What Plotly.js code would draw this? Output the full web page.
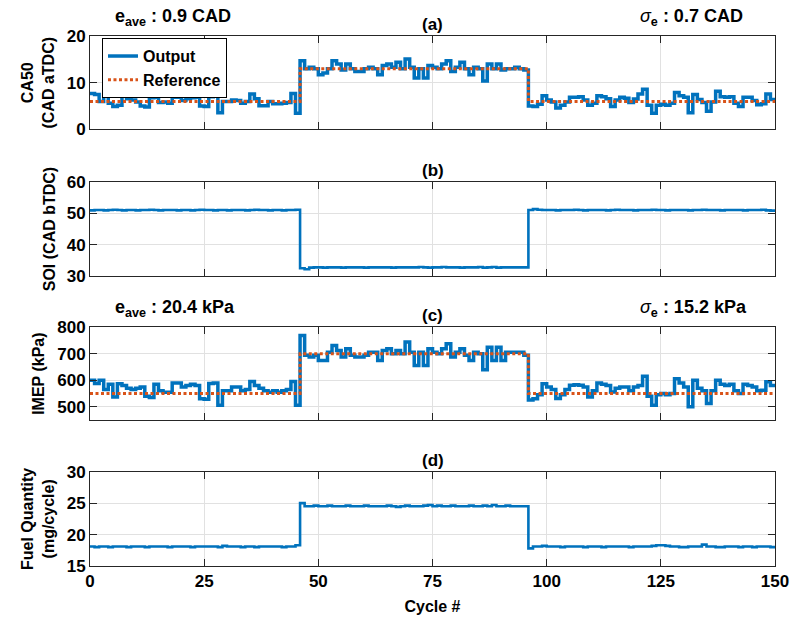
<!DOCTYPE html>
<html>
<head>
<meta charset="utf-8">
<script src="https://cdn.plot.ly/plotly-3.0.1.min.js"></script>
<style>
  html, body { margin: 0; padding: 0; background: #fff; }
  #chart { width: 791px; height: 624px; }
</style>
</head>
<body>
<div id="chart"></div>
<script>
// ---------------- DATA ----------------
const cycles = Array.from({length: 151}, (_, i) => i);   // cycle index 0..150

// (a) CA50 output (CAD aTDC)
const ca50Output = [
  7.7,7.5,6.0,7.4,5.6,4.9,5.2,7.2,6.6,6.3,
  5.9,5.0,4.8,6.8,6.9,5.8,5.9,5.6,6.9,6.9,
  6.2,6.6,6.8,6.9,5.0,4.9,7.0,7.1,3.6,6.0,
  6.0,6.3,6.2,5.6,6.0,7.6,6.6,5.1,5.1,6.0,
  5.5,5.5,5.6,5.8,7.7,3.5,14.7,13.0,13.3,13.0,
  11.7,12.1,13.0,14.7,14.0,12.7,14.0,13.0,12.4,12.4,
  13.0,13.3,13.0,11.7,13.7,14.0,13.3,14.4,13.0,15.1,
  13.3,11.0,13.0,11.0,13.7,13.3,13.0,14.0,14.7,12.4,
  13.3,14.4,13.0,11.7,13.3,13.0,10.4,14.0,13.0,14.0,
  12.7,13.0,13.0,13.3,13.0,12.7,5.0,4.9,5.4,7.2,
  6.3,5.9,4.6,5.2,5.9,6.9,6.9,7.0,6.3,5.2,
  5.6,7.2,7.0,6.6,4.9,6.3,6.9,6.7,5.8,6.5,
  7.6,8.6,5.2,3.5,5.2,5.4,5.2,5.6,7.9,7.2,
  6.9,3.6,7.5,6.4,5.8,3.9,5.9,8.2,7.0,6.9,
  7.0,5.6,4.9,6.9,6.9,6.2,5.3,5.5,7.6,6.4,
  6.4
];
// (a) CA50 reference: step breakpoints
const ca50RefCycles = [0, 46, 96, 150];
const ca50RefValues = [6, 13, 6, 6];

// (b) SOI (CAD bTDC)
const soiValues = [
  51.0,51.1,51.1,51.0,51.1,51.2,51.1,51.0,51.1,51.1,
  51.0,51.1,51.1,51.2,51.1,51.0,51.1,51.1,51.1,51.0,
  51.1,51.1,51.0,51.1,51.2,51.1,51.1,51.0,51.1,51.1,
  51.0,51.1,51.1,51.1,51.0,51.1,51.2,51.1,51.1,51.0,
  51.1,51.1,51.0,51.1,51.1,51.2,32.4,32.1,32.6,32.7,
  32.7,32.6,32.7,32.7,32.7,32.6,32.7,32.7,32.7,32.7,
  32.6,32.7,32.7,32.7,32.7,32.7,32.6,32.7,32.7,32.7,
  32.7,32.7,32.8,32.7,32.6,32.7,32.7,32.8,32.7,32.7,
  32.7,32.6,32.7,32.7,32.7,32.8,32.6,32.7,32.8,32.6,
  32.7,32.7,32.7,32.7,32.7,32.7,51.1,51.4,51.2,51.1,
  51.1,51.1,51.0,51.1,51.1,51.1,51.2,51.1,51.0,51.1,
  51.1,51.1,51.1,51.0,51.1,51.2,51.1,51.1,51.1,51.0,
  51.1,51.1,51.1,51.2,51.1,51.1,51.0,51.1,51.1,51.1,
  51.1,51.0,51.1,51.1,51.2,51.1,51.1,51.1,51.0,51.1,
  51.1,51.1,51.1,51.0,51.1,51.1,51.1,51.2,51.0,50.9,
  50.9
];

// (c) IMEP output (kPa)
const imepOutput = [
  600,588,600,565,585,537,587,580,570,565,
  570,575,540,535,585,560,555,555,590,590,
  575,580,585,580,530,528,588,590,506,560,
  560,575,575,560,565,595,580,570,560,555,
  560,555,560,565,595,506,769,694,688,694,
  675,675,706,731,712,688,719,694,688,688,
  694,706,706,675,712,719,700,712,700,744,
  706,656,706,656,719,706,700,719,738,688,
  706,719,694,675,706,700,640,725,675,725,
  675,706,706,706,706,694,525,530,545,587,
  575,565,531,545,565,581,583,581,575,537,
  560,590,585,580,556,570,575,575,560,575,
  580,615,540,506,545,550,545,550,606,590,
  575,500,600,570,560,512,560,600,585,580,
  585,560,550,585,580,575,560,562,594,580,
  580
];
// (c) IMEP reference: step breakpoints
const imepRefCycles = [0, 46, 96, 150];
const imepRefValues = [550, 700, 550, 550];

// (d) Fuel quantity (mg/cycle)
const fuelValues = [
  18.1,18.0,18.1,18.1,18.0,18.1,18.1,18.1,18.0,18.1,
  18.1,18.1,18.0,18.1,18.1,18.1,18.1,18.0,18.1,18.1,
  18.1,18.1,18.0,18.1,18.1,18.1,18.1,18.1,18.0,18.2,
  18.1,18.1,18.1,18.0,18.1,18.1,18.0,18.1,18.1,18.1,
  18.1,18.1,18.0,18.1,18.1,18.3,25.0,24.5,24.5,24.6,
  24.5,24.5,24.6,24.5,24.5,24.5,24.6,24.5,24.5,24.5,
  24.6,24.5,24.5,24.5,24.5,24.6,24.5,24.4,24.5,24.6,
  24.5,24.5,24.5,24.6,24.7,24.5,24.6,24.5,24.5,24.6,
  24.5,24.5,24.5,24.6,24.5,24.5,24.6,24.5,24.7,24.5,
  24.5,24.6,24.5,24.5,24.5,24.5,17.8,18.1,18.1,18.2,
  18.1,18.1,18.1,18.0,18.1,18.1,18.1,18.1,18.0,18.1,
  18.1,18.1,18.0,18.1,18.1,18.1,18.1,18.1,18.0,18.1,
  18.1,18.1,18.1,18.2,18.3,18.3,18.2,18.1,18.1,18.0,
  18.0,18.1,18.1,18.1,18.4,18.1,18.1,18.0,18.0,18.1,
  18.1,18.1,18.0,18.1,18.1,18.0,18.1,18.1,18.1,18.0,
  18.0
];

// text
const panelLabels = ['(a)', '(b)', '(c)', '(d)'];
const sigma = '<span style="font-weight:normal"><i>σ</i></span>';
const errLabelsA = ['e<sub>ave</sub> : 0.9 CAD', sigma + '<sub>e</sub> : 0.7 CAD'];
const errLabelsC = ['e<sub>ave</sub> : 20.4 kPa', sigma + '<sub>e</sub> : 15.2 kPa'];
const xTicks = [0, 25, 50, 75, 100, 125, 150];

// ---------------- STYLE ----------------
const blue = '#0072BD';
const orange = '#D95319';
const gridC = '#e1e1e1';
const axC = '#262626';
const domains = [[0.8236, 1.0], [0.5476, 0.7240], [0.2755, 0.4504], [0.0, 0.1779]];
const tickFont = {size: 17};
const titleFont = {size: 16};

const traces = [
  {x: cycles, y: ca50Output, xaxis: 'x', yaxis: 'y', name: 'Output', type: 'scatter', mode: 'lines',
   line: {color: blue, width: 3.5, shape: 'hv'}},
  {x: ca50RefCycles, y: ca50RefValues, xaxis: 'x', yaxis: 'y', name: 'Reference', type: 'scatter', mode: 'lines',
   line: {color: orange, width: 3, shape: 'hv', dash: '3px,2.5px'}},
  {x: cycles, y: soiValues, xaxis: 'x2', yaxis: 'y2', showlegend: false, type: 'scatter', mode: 'lines',
   line: {color: blue, width: 2.6, shape: 'hv'}},
  {x: cycles, y: imepOutput, xaxis: 'x3', yaxis: 'y3', showlegend: false, type: 'scatter', mode: 'lines',
   line: {color: blue, width: 3.5, shape: 'hv'}},
  {x: imepRefCycles, y: imepRefValues, xaxis: 'x3', yaxis: 'y3', showlegend: false, type: 'scatter', mode: 'lines',
   line: {color: orange, width: 3, shape: 'hv', dash: '3px,2.5px'}},
  {x: cycles, y: fuelValues, xaxis: 'x4', yaxis: 'y4', showlegend: false, type: 'scatter', mode: 'lines',
   line: {color: blue, width: 2.6, shape: 'hv'}}
];

function xAxis(anchor, showLabels) {
  const a = {
    domain: [0, 1], anchor: anchor, range: [0, 150], tickvals: xTicks, tickfont: tickFont,
    showticklabels: showLabels, ticks: 'inside', ticklen: 7, tickwidth: 1, tickcolor: axC,
    showline: true, linecolor: axC, linewidth: 1, mirror: 'ticks',
    showgrid: true, gridcolor: gridC, gridwidth: 1, zeroline: false
  };
  if (showLabels) a.title = {text: 'Cycle #', standoff: 10, font: titleFont};
  return a;
}
function yAxis(anchor, domain, range, tickvals, title, standoff) {
  return {
    domain: domain, anchor: anchor, range: range, tickvals: tickvals, tickfont: tickFont,
    ticks: 'inside', ticklen: 7, tickwidth: 1, tickcolor: axC,
    showline: true, linecolor: axC, linewidth: 1, mirror: 'ticks',
    showgrid: true, gridcolor: gridC, gridwidth: 1, zeroline: false,
    title: {text: title, standoff: standoff, font: titleFont}
  };
}

const annotations = [];
panelLabels.forEach((t, i) => {
  annotations.push({text: t, xref: 'paper', yref: 'paper', x: 0.5, y: domains[i][1],
    xanchor: 'center', yanchor: 'bottom', yshift: 0, showarrow: false, font: {size: 17}});
});
[[errLabelsA, domains[0][1]], [errLabelsC, domains[2][1]]].forEach(([labs, top]) => {
  annotations.push({text: labs[0], xref: 'x', yref: 'paper', x: 5, y: top, align: 'left',
    xanchor: 'left', yanchor: 'bottom', yshift: 5, showarrow: false, font: {size: 18}});
  annotations.push({text: labs[1], xref: 'x', yref: 'paper', x: 120, y: top, align: 'left',
    xanchor: 'left', yanchor: 'bottom', yshift: 5, showarrow: false, font: {size: 18}});
});

const layout = {
  width: 791, height: 624,
  margin: {l: 90, r: 16, t: 36, b: 58},
  paper_bgcolor: '#ffffff', plot_bgcolor: '#ffffff',
  font: {family: 'Liberation Sans, Arial, sans-serif', size: 16, color: '#000000', weight: 'bold'},
  showlegend: true,
  legend: {x: 0.0175, y: 0.996, xanchor: 'left', yanchor: 'top', bgcolor: '#ffffff',
           bordercolor: '#000000', borderwidth: 1, font: {size: 16}, tracegroupgap: 0},
  xaxis: xAxis('y', false),
  xaxis2: xAxis('y2', false),
  xaxis3: xAxis('y3', false),
  xaxis4: xAxis('y4', true),
  yaxis: yAxis('x', domains[0], [0, 20], [0, 10, 20], 'CA50<br>(CAD aTDC)', 8),
  yaxis2: yAxis('x2', domains[1], [30, 60], [30, 40, 50, 60], 'SOI (CAD bTDC)', 7),
  yaxis3: yAxis('x3', domains[2], [450, 800], [500, 600, 700, 800], 'IMEP (kPa)', 8),
  yaxis4: yAxis('x4', domains[3], [15, 30], [15, 20, 25, 30], 'Fuel Quantity<br>(mg/cycle)', 8),
  annotations: annotations
};

Plotly.newPlot('chart', traces, layout, {displayModeBar: false, staticPlot: true});
</script>
</body>
</html>
